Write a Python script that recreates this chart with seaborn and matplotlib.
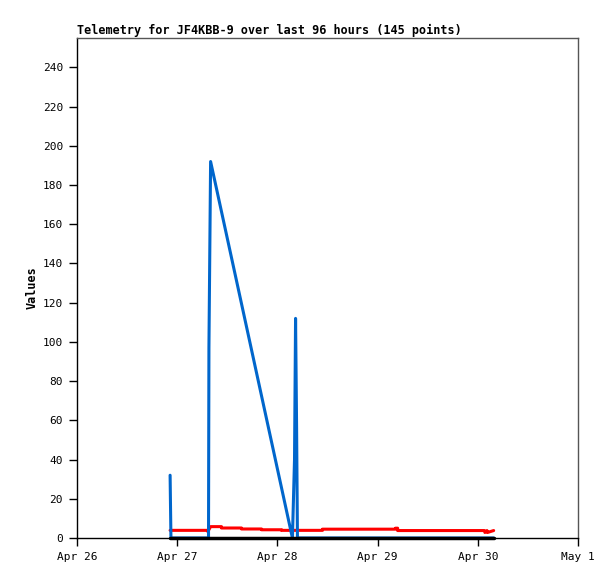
import pandas as pd
import matplotlib
matplotlib.use("Agg")
import matplotlib.pyplot as plt
import seaborn as sns

# hours since Apr 26 00:00
blue_hours = [22.3, 22.4, 22.5, 31.5, 31.6, 32.0, 51.6, 52.1, 52.35, 52.6, 52.8, 99.8]
blue_values = [32, 16, 0, 0, 97, 192, 0, 40, 112, 56, 0, 0]

red_hours = [22.3, 31.3, 31.4, 31.5, 32.0, 34.6, 34.6, 39.4, 39.4, 44.2, 44.2, 49.0, 49.0,
             58.8, 58.8, 76.3, 76.3, 76.8, 76.8, 97.6, 97.7, 98.2, 98.3, 99.8]
red_values = [3.9, 3.9, 3.0, 3.9, 5.8, 5.8, 5.1, 5.1, 4.6, 4.6, 4.2, 4.2, 3.9,
              3.9, 4.5, 4.5, 5.0, 5.0, 3.8, 3.8, 2.8, 3.8, 2.8, 3.8]

black_hours = [22.3, 99.8]
black_values = [0, 0]

tick_labels = ["Apr 26", "Apr 27", "Apr 28", "Apr 29", "Apr 30", "May 1"]

start = pd.Timestamp("2024-04-26")


def frame(hours, values):
    return pd.DataFrame({"time": start + pd.to_timedelta(hours, unit="h"), "value": values})


sns.set_style("white")
plt.rcParams["font.family"] = ["DejaVu Sans Mono"]

fig = plt.figure(figsize=(6.15, 5.79), dpi=100)
ax = fig.add_axes([77 / 615, 1 - 538 / 579, 501 / 615, 500 / 579])

sns.lineplot(data=frame(red_hours, red_values), x="time", y="value", color="#ff0000",
             linewidth=2.2, estimator=None, sort=False, ax=ax, zorder=3)
sns.lineplot(data=frame(blue_hours, blue_values), x="time", y="value", color="#0066cc",
             linewidth=2.2, estimator=None, sort=False, ax=ax, zorder=4)
sns.lineplot(data=frame(black_hours, black_values), x="time", y="value", color="black",
             linewidth=2.5, estimator=None, sort=False, ax=ax, zorder=5)
ax.lines[-1].set_clip_on(False)

ax.set_ylim(0, 255)
ax.set_yticks(range(0, 241, 20))
ax.set_xlim(start, start + pd.Timedelta(days=5))
ax.set_xticks([start + pd.Timedelta(days=i) for i in range(6)])
ax.set_xticklabels(tick_labels)

ax.tick_params(axis="both", which="major", bottom=True, left=True, direction="out",
               length=6, width=1, color="black", labelsize=8, labelcolor="black", pad=4)
for side in ["left", "bottom"]:
    ax.spines[side].set_color("black")
    ax.spines[side].set_linewidth(1)
for side in ["top", "right"]:
    ax.spines[side].set_color("#555555")
    ax.spines[side].set_linewidth(1)

ax.set_xlabel("")
ax.set_ylabel("Values", fontsize=8.5, fontweight="bold", labelpad=3, color="black")
ax.set_title("Telemetry for JF4KBB-9 over last 96 hours (145 points)", loc="left",
             fontsize=8.5, fontweight="bold", pad=3, color="black")

fig.savefig("out.png", dpi=100)
